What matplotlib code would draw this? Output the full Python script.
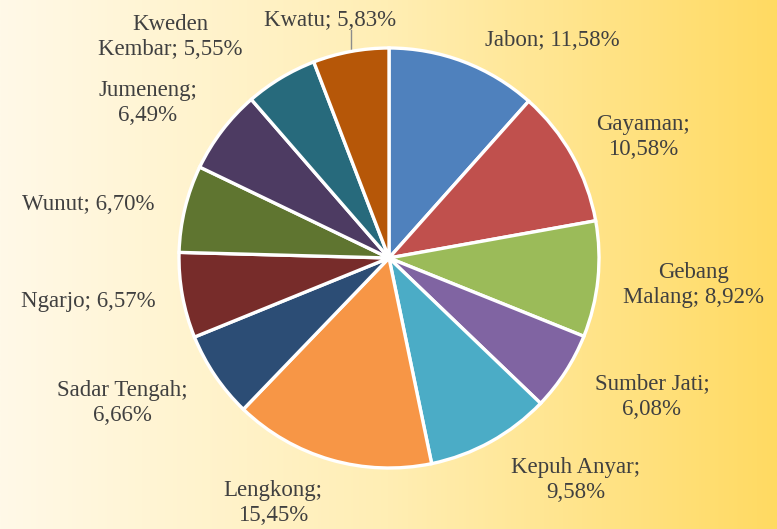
import numpy as np
import matplotlib
matplotlib.use("Agg")
import matplotlib.pyplot as plt

# data
desa = ["Jabon", "Gayaman", "Gebang\nMalang", "Sumber Jati", "Kepuh Anyar", "Lengkong",
        "Sadar Tengah", "Ngarjo", "Wunut", "Jumeneng", "Kweden\nKembar", "Kwatu"]
persen = [11.58, 10.58, 8.92, 6.08, 9.58, 15.45, 6.66, 6.57, 6.70, 6.49, 5.55, 5.83]
label_teks = ["Jabon; 11,58%", "Gayaman;\n10,58%", "Gebang\nMalang; 8,92%",
              "Sumber Jati;\n6,08%", "Kepuh Anyar;\n9,58%", "Lengkong;\n15,45%",
              "Sadar Tengah;\n6,66%", "Ngarjo; 6,57%", "Wunut; 6,70%",
              "Jumeneng;\n6,49%", "Kweden\nKembar; 5,55%", "Kwatu; 5,83%"]

warna = ["#4F81BD", "#C0504D", "#9BBB59", "#8064A2", "#4BACC6", "#F79646",
         "#2C4D75", "#772C2A", "#5F7530", "#4D3B62", "#276A7C", "#B65708"]

# posisi label (piksel dari kiri-atas gambar)
pos_label = [(552, 40), (643, 137), (694, 285), (652, 397), (576, 480), (273, 503),
             (122, 403), (88, 302), (88, 205), (148, 103), (170, 37), (330, 20)]

W, H = 777, 529
cx, cy, R = 389, 258, 210

fig = plt.figure(figsize=(W / 100, H / 100), dpi=100)
ax = fig.add_axes([0, 0, 1, 1])
xlim = (-cx / R, (W - cx) / R)
ylim = (-(H - cy) / R, cy / R)

# latar gradasi
kiri = np.array([255, 249, 232]) / 255
tengah = np.array([255, 238, 180]) / 255
kanan = np.array([255, 218, 98]) / 255
t = np.linspace(0, 1, 400)
grad = np.where(t[:, None] < 0.5,
                kiri + (tengah - kiri) * (t[:, None] / 0.5),
                tengah + (kanan - tengah) * ((t[:, None] - 0.5) / 0.5))
ax.imshow(grad[None, :, :], extent=[xlim[0], xlim[1], ylim[0], ylim[1]],
          aspect="auto", zorder=0)

wedges, _ = ax.pie(persen, colors=warna, startangle=90, counterclock=False,
                   radius=1, center=(0, 0),
                   wedgeprops=dict(edgecolor="white", linewidth=2.4))
for w in wedges:
    w.set_zorder(2)

for teks, (px, py) in zip(label_teks, pos_label):
    ax.text((px - cx) / R, (cy - py) / R, teks, ha="center", va="center",
            fontsize=16.5, family="Liberation Serif", color="#404040",
            linespacing=1.3, zorder=3)

# garis penunjuk Kwatu
ang = np.deg2rad(90 + persen[-1] / 100 * 360 / 2)
x0 = np.cos(ang)
ax.plot([x0, x0], [np.sin(ang), (cy - 30) / R], color="#8c8c8c", lw=1, zorder=1)

ax.set_xlim(*xlim)
ax.set_ylim(*ylim)
ax.set_aspect("auto")
ax.axis("off")

plt.savefig("out.png", dpi=100)
plt.close()
